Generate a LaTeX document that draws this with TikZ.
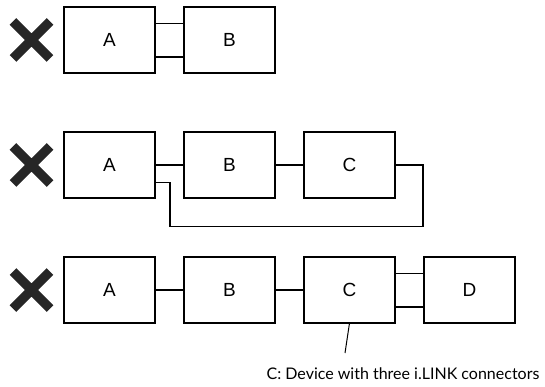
\documentclass[tikz,border=0pt]{standalone}
\usepackage{fontspec}
\setmainfont{Liberation Sans}
\newfontfamily\notefont{Lato}
\usetikzlibrary{calc,positioning,shapes.misc}

\begin{document}
\begin{tikzpicture}[x=1pt,y=1pt,node distance=29pt,
    dev/.style={draw,line width=1.2pt,rectangle,minimum width=91pt,minimum height=66pt,
      outer sep=0pt,inner sep=0pt,font=\fontsize{19}{21}\selectfont},
    nolink/.style={cross out,draw=black!85,line width=9.5pt,minimum size=37pt,
      outer sep=0pt,inner sep=0pt},
    wire/.style={line width=1.2pt},
    capt/.style={font=\notefont\fontsize{16}{18}\selectfont,inner sep=0pt}]
  \useasboundingbox (0,0) rectangle (545,-387);
  % two devices joined twice
  \node[dev] (a1) at (109.5,-40) {A};
  \node[dev,right=of a1] (b1) {B};
  \node[nolink,left=14pt of a1] (x1) {};
  \draw[wire] ([yshift=16.5pt]a1.east)--([yshift=16.5pt]b1.west);
  \draw[wire] ([yshift=-17pt]a1.east)--([yshift=-17pt]b1.west);
  % three devices in a ring
  \node[dev,below=59pt of a1] (a2) {A};
  \node[dev,right=of a2] (b2) {B};
  \node[dev,right=of b2] (c2) {C};
  \node[nolink,left=14pt of a2] (x2) {};
  \draw[wire] (a2)--(b2);
  \draw[wire] (b2)--(c2);
  \draw[wire] ([yshift=-17.5pt]a2.east)--++(15,0)|-([xshift=28pt,yshift=-61.5pt]c2.east)|-(c2.east);
  % four devices, C doubly joined to D
  \node[dev,below=59pt of a2] (a3) {A};
  \node[dev,right=of a3] (b3) {B};
  \node[dev,right=of b3] (c3) {C};
  \node[dev,right=of c3] (d3) {D};
  \node[nolink,left=14pt of a3] (x3) {};
  \draw[wire] (a3)--(b3);
  \draw[wire] (b3)--(c3);
  \draw[wire] ([yshift=16.5pt]c3.east)--([yshift=16.5pt]d3.west);
  \draw[wire] ([yshift=-17pt]c3.east)--([yshift=-17pt]d3.west);
  % note on C
  \coordinate (tip) at ($(c3.south)+(-4.5,-30)$);
  \draw[line width=1pt] (c3.south)--(tip);
  \node[capt,anchor=north] (note) at ($(tip)+(58,-15)$) {C: Device with three i.LINK connectors};
\end{tikzpicture}
\end{document}
